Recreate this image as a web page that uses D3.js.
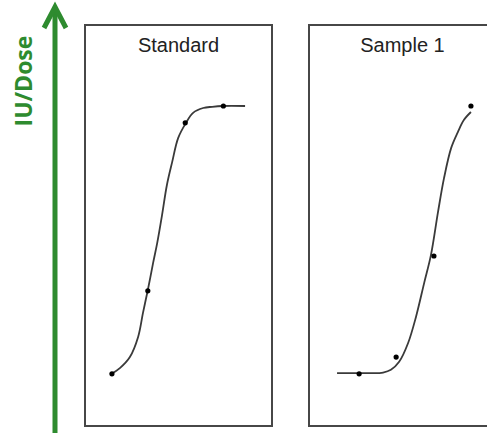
<!DOCTYPE html>
<html>
<head>
<meta charset="utf-8">
<script src="https://cdn.jsdelivr.net/npm/d3@7"></script>
<style>
  html, body { margin: 0; padding: 0; background: #fff; }
  svg { display: block; }
</style>
</head>
<body>
<svg id="chart" width="487" height="433"></svg>
<script>
// panel titles
const panelTitles = ['Standard', 'Sample 1']

// measured points (log dose, response)
const standardDose = [0.72, 1.68, 2.68, 3.70]
const standardResp = [13.0, 33.7, 75.6, 79.8]
const sampleDose = [1.34, 2.33, 3.34, 4.33]
const sampleResp = [13.0, 17.2, 42.4, 79.8]

// fitted curves
const standardCurveX = [0.71, 0.94, 1.20, 1.42, 1.55, 1.68, 1.82, 1.93, 2.06, 2.19, 2.33, 2.49, 2.70, 2.89, 3.16, 3.40, 3.69, 4.28]
const standardCurveY = [13.0, 14.5, 17.2, 22.2, 28.2, 33.9, 40.6, 45.6, 52.6, 60.1, 65.8, 71.8, 75.6, 78.1, 79.3, 79.6, 79.8, 79.8]
const sampleCurveX = [0.75, 1.40, 1.85, 1.98, 2.19, 2.41, 2.65, 2.86, 3.08, 3.26, 3.45, 3.61, 3.80, 3.98, 4.14, 4.33]
const sampleCurveY = [13.2, 13.2, 13.2, 13.3, 14.0, 16.0, 20.7, 27.2, 35.7, 42.6, 53.4, 61.8, 69.3, 73.3, 76.3, 78.3]

const axisLabel = 'IU/Dose'

const color = {
  green: '#2e8b2f',
  frame: '#474747',
  curve: '#3a3a3a',
  point: '#000',
  title: '#222'
}

const panelTop = 25
const panelHeight = 401
const panelWidth = 187
const panelLefts = [85, 309]

const svg = d3.select('#chart')

// y axis arrow
const arrowX = 55
svg.append('line')
  .attr('x1', arrowX).attr('x2', arrowX)
  .attr('y1', 433).attr('y2', 7)
  .attr('stroke', color.green)
  .attr('stroke-width', 5)
svg.append('polyline')
  .attr('points', [[arrowX - 11, 28], [arrowX, 7], [arrowX + 11, 28]].map(p => p.join(',')).join(' '))
  .attr('fill', 'none')
  .attr('stroke', color.green)
  .attr('stroke-width', 5)
  .attr('stroke-linejoin', 'miter')

svg.append('text')
  .attr('transform', 'translate(32,81) rotate(-90)')
  .attr('text-anchor', 'middle')
  .attr('font-family', 'Open Sans, sans-serif')
  .attr('font-weight', 700)
  .attr('font-size', 23)
  .attr('fill', color.green)
  .text(axisLabel)

const x = d3.scaleLinear().domain([0, 5]).range([0, panelWidth])
const y = d3.scaleLinear().domain([0, 100]).range([panelHeight, 0])

const line = d3.line()
  .x(d => x(d[0]))
  .y(d => y(d[1]))
  .curve(d3.curveCatmullRom.alpha(0.5))

const panels = [
  { title: panelTitles[0], dose: standardDose, resp: standardResp, cx: standardCurveX, cy: standardCurveY },
  { title: panelTitles[1], dose: sampleDose, resp: sampleResp, cx: sampleCurveX, cy: sampleCurveY }
]

panels.forEach((p, i) => {
  const g = svg.append('g')
    .attr('transform', 'translate(' + panelLefts[i] + ',' + panelTop + ')')

  g.append('rect')
    .attr('width', panelWidth)
    .attr('height', panelHeight)
    .attr('fill', 'none')
    .attr('stroke', color.frame)
    .attr('stroke-width', 2)

  g.append('text')
    .attr('x', panelWidth / 2)
    .attr('y', 27)
    .attr('text-anchor', 'middle')
    .attr('font-family', 'Liberation Sans, Arial, sans-serif')
    .attr('font-size', 20)
    .attr('fill', color.title)
    .text(p.title)

  g.append('path')
    .datum(d3.zip(p.cx, p.cy))
    .attr('fill', 'none')
    .attr('stroke', color.curve)
    .attr('stroke-width', 1.8)
    .attr('d', line)

  g.selectAll('.pt')
    .data(d3.zip(p.dose, p.resp))
    .enter()
    .append('circle')
    .attr('class', 'pt')
    .attr('cx', d => x(d[0]))
    .attr('cy', d => y(d[1]))
    .attr('r', 2.6)
    .attr('fill', color.point)
})
</script>
</body>
</html>
